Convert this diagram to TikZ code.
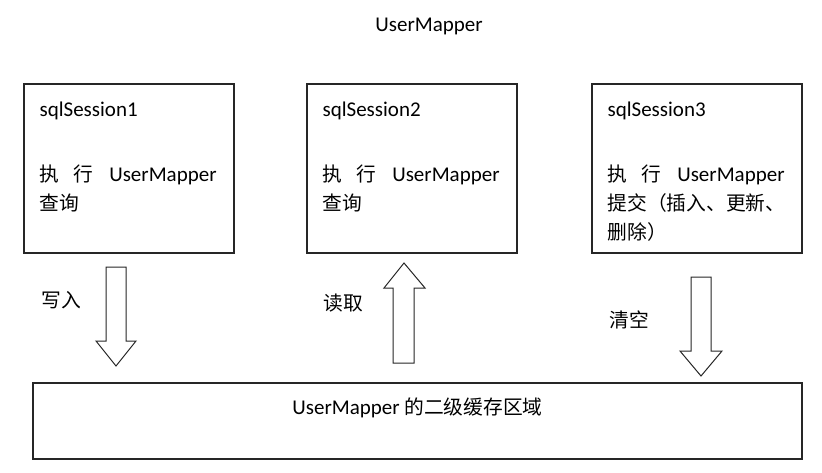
\documentclass[tikz,border=0pt]{standalone}
\usepackage{fontspec}
\setmainfont{Carlito}
\newfontfamily\zhfont[Scale=0.94]{Noto Sans CJK SC}
\newcommand{\zh}[1]{{\zhfont #1}}
\tikzset{
  sessbox/.style={draw=black!85, line width=1.2pt, minimum width=210pt, minimum height=169pt, inner sep=0pt},
  sesstext/.style={anchor=north west, inner sep=0pt, align=left, font=\fontsize{21}{29}\selectfont},
  blockarrow/.style={draw=black!85, line width=1pt, fill=white},
  lbl/.style={font=\fontsize{21}{25}\selectfont}
}
\begin{document}
\begin{tikzpicture}[x=1pt,y=-1pt]
  \useasboundingbox (0,0) rectangle (822,472);
  \node[lbl] (title) at (429,26) {UserMapper};
  % the three sessions
  \node[sessbox] (s1) at (129,168.5) {};
  \node[sessbox] (s2) at (412,168.5) {};
  \node[sessbox] (s3) at (697,168.5) {};
  \node[sesstext] (t1) at ([shift={(16,18)}]s1.north west)
    {sqlSession1\\[36pt]\makebox[177pt][s]{\zh{执 行} UserMapper}\\ \zh{查询}};
  \node[sesstext] (t2) at ([shift={(16,18)}]s2.north west)
    {sqlSession2\\[36pt]\makebox[177pt][s]{\zh{执 行} UserMapper}\\ \zh{查询}};
  \node[sesstext] (t3) at ([shift={(16,18)}]s3.north west)
    {sqlSession3\\[36pt]\makebox[177pt][s]{\zh{执 行} UserMapper}\\ \zh{提交（插入、更新、}\\ \zh{删除）}};
  % second level cache
  \node[sessbox, minimum width=769pt, minimum height=76pt] (cache) at (417.5,421) {};
  \node[lbl] (cachetext) at ([yshift=13]cache.center) {UserMapper \zh{的二级缓存区域}};
  % block arrows
  \draw[blockarrow] (106,267) -- (126,267) -- (126,341) -- (136,341) -- (116,366) -- (96,341) -- (106,341) -- cycle;
  \draw[blockarrow] (393,363) -- (414,363) -- (414,288) -- (425,288) -- (404,263) -- (384,288) -- (393,288) -- cycle;
  \draw[blockarrow] (691,277) -- (711,277) -- (711,351) -- (722,351) -- (701,376) -- (680,351) -- (691,351) -- cycle;
  \node[lbl] (write) at (61,300) {\zh{写入}};
  \node[lbl] (read) at (343,303) {\zh{读取}};
  \node[lbl] (clear) at (629,320) {\zh{清空}};
\end{tikzpicture}
\end{document}
